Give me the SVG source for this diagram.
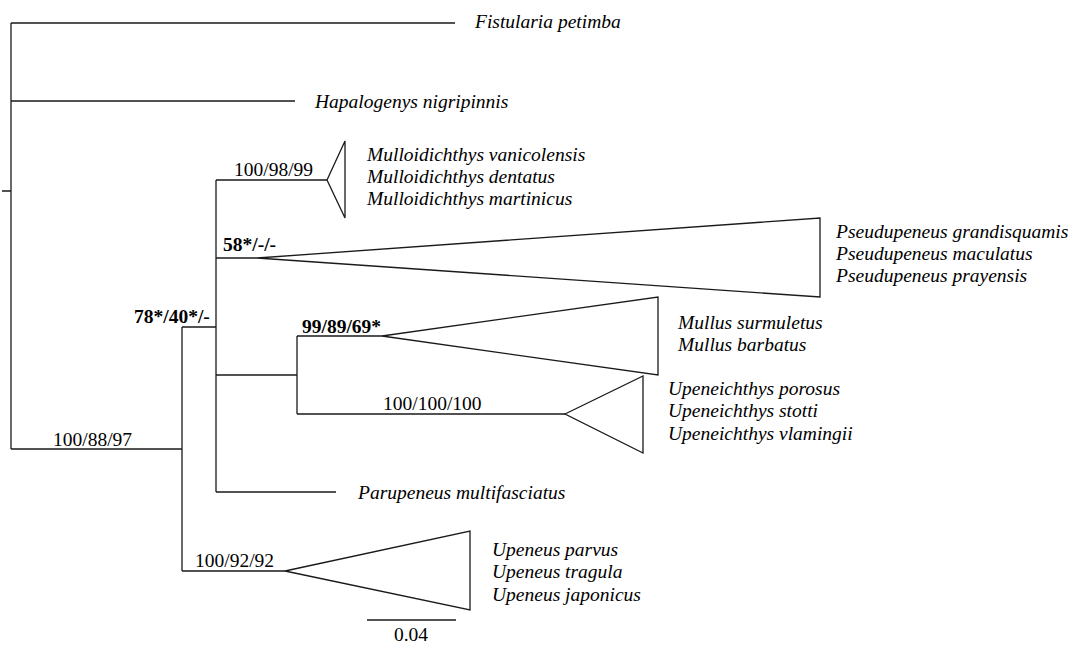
<svg xmlns="http://www.w3.org/2000/svg" width="1078" height="646" viewBox="0 0 1078 646">
<style>
.ln{stroke:#1a1a1a;stroke-width:1.3;fill:none}
.tri{stroke:#1a1a1a;stroke-width:1.3;fill:#fff;stroke-linejoin:miter}
.sp{font-family:"Liberation Serif","Times New Roman",serif;font-style:italic;font-size:19.5px;fill:#000}
.bs{font-family:"Liberation Serif","Times New Roman",serif;font-size:19.5px;fill:#000}
.bb{font-weight:bold}
</style>
<rect width="1078" height="646" fill="#fff"/>
<g id="connectors">
<path class="ln" d="M2,191H11M11,23V449M11,23H455M11,101H295M11,449H182M182,327V571M182,327H216M182,571H285M216,180V492M216,180H327M216,258H257M216,375H297M216,492H336M297,336V414M297,336H382M297,414H565"/>
<path class="ln" d="M367,620H456"/>
</g>
<g id="node-fistularia"><text class="sp" x="475" y="28">Fistularia petimba</text></g>
<g id="node-hapalogenys"><text class="sp" x="315" y="108">Hapalogenys nigripinnis</text></g>
<g id="node-mulloidichthys">
<polygon class="tri" points="327,180 345,141 345,218"/>
<text class="sp" x="367" y="161">Mulloidichthys vanicolensis</text>
<text class="sp" x="367" y="183">Mulloidichthys dentatus</text>
<text class="sp" x="367" y="205">Mulloidichthys martinicus</text>
</g>
<g id="node-pseudupeneus">
<polygon class="tri" points="257,258 820,218 820,297"/>
<text class="sp" x="836" y="238">Pseudupeneus grandisquamis</text>
<text class="sp" x="836" y="260">Pseudupeneus maculatus</text>
<text class="sp" x="836" y="282">Pseudupeneus prayensis</text>
</g>
<g id="node-mullus">
<polygon class="tri" points="382,336 658,297 658,375"/>
<text class="sp" x="678" y="329">Mullus surmuletus</text>
<text class="sp" x="678" y="351">Mullus barbatus</text>
</g>
<g id="node-upeneichthys">
<polygon class="tri" points="565,414 643,376 643,453"/>
<text class="sp" x="668" y="395">Upeneichthys porosus</text>
<text class="sp" x="668" y="417">Upeneichthys stotti</text>
<text class="sp" x="668" y="440">Upeneichthys vlamingii</text>
</g>
<g id="node-parupeneus"><text class="sp" x="358" y="499">Parupeneus multifasciatus</text></g>
<g id="node-upeneus">
<polygon class="tri" points="285,571 470,531 470,610"/>
<text class="sp" x="492" y="556">Upeneus parvus</text>
<text class="sp" x="492" y="578">Upeneus tragula</text>
<text class="sp" x="492" y="601">Upeneus japonicus</text>
</g>
<g id="support-labels">
<text class="bs" x="53" y="446">100/88/97</text>
<text class="bs bb" x="134" y="323">78*/40*/-</text>
<text class="bs" x="234" y="176">100/98/99</text>
<text class="bs bb" x="223" y="251">58*/-/-</text>
<text class="bs bb" x="302" y="333">99/89/69*</text>
<text class="bs" x="383" y="410">100/100/100</text>
<text class="bs" x="195" y="567">100/92/92</text>
<text class="bs" x="411" y="641" text-anchor="middle">0.04</text>
</g>
</svg>
